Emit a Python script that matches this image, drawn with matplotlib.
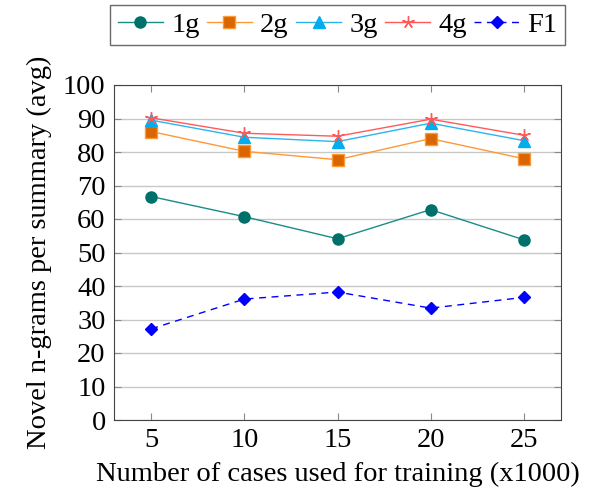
import matplotlib.pyplot as plt

plt.rcParams['font.family'] = ['Liberation Serif', 'DejaVu Serif']

cases = [5, 10, 15, 20, 25]
g1 = [66.7, 60.7, 54.1, 62.8, 53.8]
g2 = [86.1, 80.2, 77.7, 84.0, 78.0]
g3 = [89.5, 84.4, 83.1, 88.6, 83.4]
g4 = [90.2, 85.6, 84.7, 89.8, 85.0]
f1 = [27.2, 36.1, 38.2, 33.4, 36.6]

fs = 20.5

fig = plt.figure(figsize=(5.95, 4.95), dpi=100)
ax = fig.add_axes([114 / 595, 75 / 495, 447 / 595, 335 / 495])

ax.plot(cases, g1, color='#1a8c88', lw=1, marker='o', ms=8,
        mfc='#00706b', mec='#00706b', label='1g')
ax.plot(cases, g2, color='#ff9933', lw=1, marker='s', ms=8,
        mfc='#d96600', mec='#ff9933', label='2g')
ax.plot(cases, g3, color='#2bb5ee', lw=1, marker='^', ms=8,
        mfc='#00aeef', mec='#00aeef', label='3g')
ax.plot(cases, g4, color='#ff5a5a', lw=1, marker=(5, 2, 0), ms=9,
        mew=1, label='4g')
ax.plot(cases, f1, color='#0000ff', lw=1, ls=(0, (5, 4)), marker='D', ms=6,
        mfc='#0000ff', mec='#0000ff', label='F1')

ax.set_xlim(3, 27)
ax.set_ylim(0, 100)
ax.set_xticks(cases)
ax.set_yticks(range(0, 101, 10))
ax.yaxis.grid(True, color='#c8c8c8', lw=1)
ax.set_axisbelow(True)
ax.tick_params(direction='in', top=True, right=True, labelsize=fs,
               length=5, color='#888888', pad=6)
for s in ax.spines.values():
    s.set_color('#444444')

ax.set_xlabel('Number of cases used for training (x1000)', fontsize=fs,
              labelpad=6)
ax.set_ylabel('Novel n-grams per summary (avg)', fontsize=fs, labelpad=8)

fig.legend(loc='upper center', bbox_to_anchor=(337.5 / 595, 1 - 5 / 495),
           ncol=5, fontsize=fs, frameon=True, fancybox=False,
           edgecolor='#444444', handlelength=1.6, columnspacing=0.25,
           handletextpad=0.28, borderpad=0.25, borderaxespad=0)

fig.savefig('out.png', dpi=100)
